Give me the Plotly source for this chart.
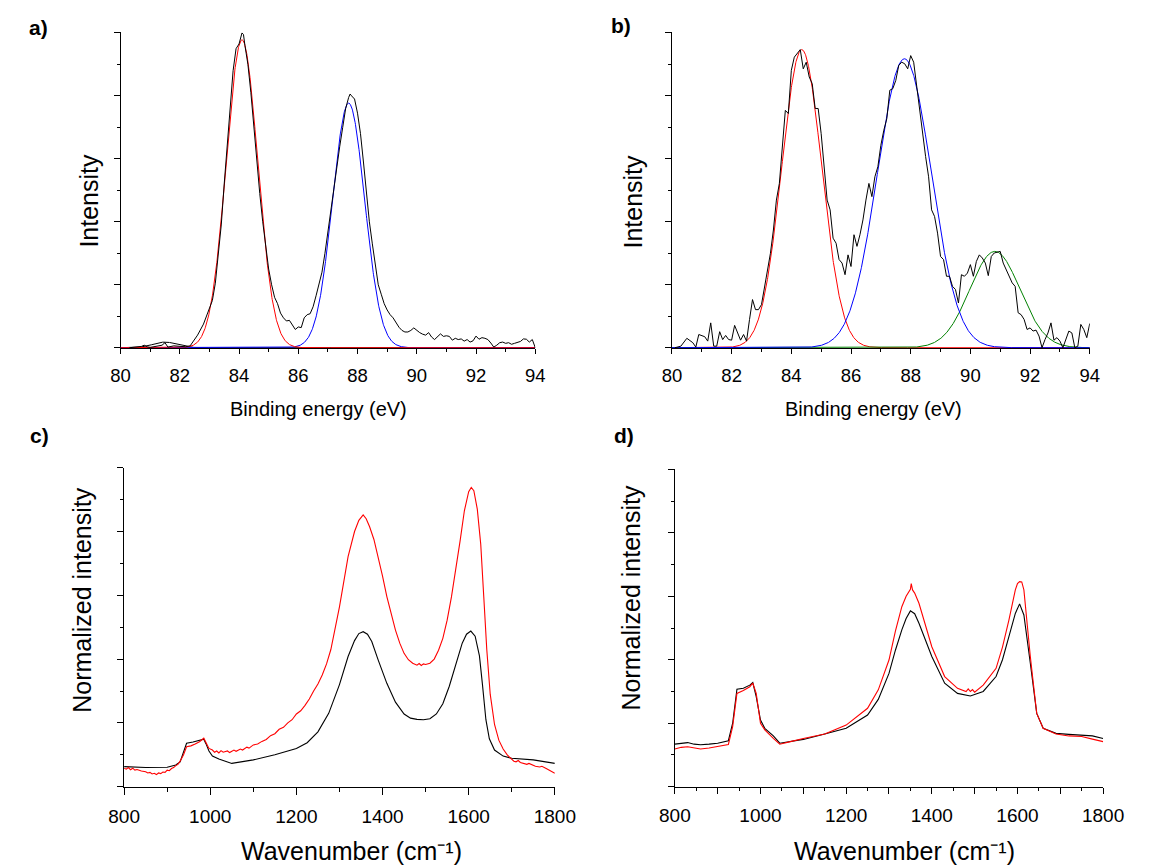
import numpy as np
import plotly.graph_objects as go

W, H = 1152, 865
FONT = "Liberation Sans, Arial, sans-serif"

# ---------------- panel a: XPS spectrum + fitted components ----------------
a_energy = [80.3, 80.5, 80.7, 80.8, 80.9, 81.0, 81.2, 81.4, 81.5, 81.6, 81.8, 82.0, 82.2, 82.35,
            82.5, 82.6, 82.8, 82.9, 83.0, 83.1, 83.2, 83.3, 83.4, 83.5, 83.6, 83.7, 83.8, 83.9,
            84.0, 84.1, 84.15, 84.2, 84.3, 84.4, 84.5, 84.6, 84.7, 84.8, 84.9, 85.0, 85.1, 85.2,
            85.3, 85.4, 85.5, 85.6, 85.7, 85.8, 85.9, 86.0, 86.1, 86.2, 86.3, 86.4, 86.5, 86.6,
            86.7, 86.8, 86.9, 87.0, 87.1, 87.2, 87.3, 87.4, 87.5, 87.6, 87.7, 87.75, 87.8, 87.9,
            88.0, 88.1, 88.2, 88.3, 88.4, 88.5, 88.6, 88.7, 88.8, 88.9, 89.0, 89.1, 89.2, 89.3,
            89.4, 89.5, 89.6, 89.7, 89.8, 89.9, 90.0, 90.1, 90.2, 90.3, 90.4, 90.5, 90.6, 90.7,
            90.8, 90.9, 91.0, 91.1, 91.2, 91.3, 91.4, 91.5, 91.6, 91.7, 91.8, 91.9, 92.0, 92.1,
            92.2, 92.3, 92.4, 92.5, 92.6, 92.7, 92.8, 92.9, 93.0, 93.1, 93.2, 93.3, 93.4, 93.5,
            93.6, 93.7, 93.8, 93.9, 94.0]
a_counts = [0.000, 0.002, 0.004, 0.008, 0.003, 0.001, 0.004, 0.008, 0.016, 0.002, 0.006, 0.004,
            0.003, 0.006, 0.025, 0.040, 0.075, 0.100, 0.120, 0.150, 0.205, 0.290, 0.390, 0.520,
            0.640, 0.760, 0.880, 0.950, 0.965, 1.000, 0.995, 0.960, 0.900, 0.810, 0.700, 0.590,
            0.490, 0.400, 0.320, 0.250, 0.200, 0.160, 0.140, 0.110, 0.095, 0.085, 0.087, 0.072,
            0.058, 0.066, 0.064, 0.095, 0.105, 0.108, 0.130, 0.165, 0.200, 0.240, 0.300, 0.370,
            0.440, 0.510, 0.580, 0.640, 0.700, 0.760, 0.795, 0.806, 0.800, 0.790, 0.745, 0.680,
            0.590, 0.490, 0.400, 0.330, 0.260, 0.200, 0.170, 0.140, 0.120, 0.105, 0.095, 0.080,
            0.065, 0.055, 0.050, 0.050, 0.055, 0.063, 0.055, 0.048, 0.043, 0.040, 0.048, 0.034,
            0.026, 0.035, 0.044, 0.036, 0.038, 0.036, 0.024, 0.030, 0.026, 0.028, 0.021, 0.026,
            0.018, 0.022, 0.037, 0.027, 0.032, 0.030, 0.026, 0.015, 0.002, 0.008, 0.016, 0.018,
            0.014, 0.016, 0.011, 0.014, 0.016, 0.020, 0.028, 0.027, 0.018, 0.026, 0.000]
# fitted Gaussian components: centre (eV), height, sigma (eV)
a_fit_center = [81.5, 87.7, 84.1]
a_fit_height = [0.018, 0.777, 0.978]
a_fit_sigma = [0.40, 0.54, 0.53]
a_fit_color = ["black", "#0000ff", "#ff0000"]

# ---------------- panel b ----------------
b_energy = [80.1, 80.3, 80.5, 80.7, 80.8, 80.9, 81.1, 81.2, 81.3, 81.4, 81.5, 81.6, 81.7, 81.8,
            81.9, 82.0, 82.1, 82.3, 82.4, 82.5, 82.6, 82.7, 82.8, 82.9, 83.0, 83.1, 83.2, 83.3,
            83.4, 83.5, 83.6, 83.7, 83.8, 83.9, 84.0, 84.1, 84.2, 84.3, 84.4, 84.5, 84.6, 84.7,
            84.8, 84.9, 85.0, 85.1, 85.2, 85.3, 85.4, 85.5, 85.6, 85.7, 85.8, 85.9, 86.0, 86.1,
            86.2, 86.3, 86.4, 86.5, 86.6, 86.7, 86.8, 86.9, 87.0, 87.1, 87.2, 87.3, 87.4, 87.5,
            87.6, 87.7, 87.8, 87.9, 88.0, 88.1, 88.2, 88.3, 88.4, 88.5, 88.6, 88.7, 88.8, 88.9,
            89.0, 89.1, 89.2, 89.3, 89.4, 89.5, 89.6, 89.7, 89.8, 89.9, 90.0, 90.1, 90.2, 90.3,
            90.4, 90.5, 90.6, 90.7, 90.8, 90.9, 91.0, 91.1, 91.2, 91.3, 91.4, 91.5, 91.6, 91.7,
            91.8, 91.9, 92.0, 92.1, 92.2, 92.3, 92.4, 92.5, 92.6, 92.7, 92.8, 92.9, 93.0, 93.1,
            93.2, 93.3, 93.4, 93.5, 93.6, 93.7, 93.8, 93.9, 94.0]
b_counts = [0.000, 0.005, 0.030, 0.016, 0.002, 0.042, 0.035, 0.021, 0.079, 0.005, 0.005, 0.051,
            0.026, 0.039, 0.026, 0.024, 0.071, 0.024, 0.042, 0.021, 0.090, 0.153, 0.121, 0.121,
            0.137, 0.195, 0.248, 0.300, 0.374, 0.469, 0.522, 0.628, 0.754, 0.744, 0.881, 0.923,
            0.934, 0.947, 0.886, 0.907, 0.860, 0.839, 0.760, 0.760, 0.680, 0.585, 0.469, 0.438,
            0.348, 0.332, 0.280, 0.269, 0.232, 0.295, 0.258, 0.359, 0.322, 0.359, 0.406, 0.469,
            0.522, 0.480, 0.543, 0.575, 0.643, 0.691, 0.728, 0.818, 0.823, 0.849, 0.897, 0.907,
            0.902, 0.886, 0.928, 0.907, 0.828, 0.765, 0.680, 0.607, 0.543, 0.438, 0.417, 0.364,
            0.290, 0.280, 0.227, 0.227, 0.195, 0.185, 0.142, 0.232, 0.227, 0.237, 0.264, 0.227,
            0.274, 0.295, 0.285, 0.269, 0.229, 0.290, 0.301, 0.303, 0.306, 0.269, 0.248, 0.232,
            0.206, 0.195, 0.111, 0.105, 0.090, 0.058, 0.063, 0.053, 0.056, 0.037, 0.000, 0.026,
            0.047, 0.079, 0.024, 0.032, 0.021, 0.000, 0.026, 0.053, 0.047, 0.000, 0.005, 0.074,
            0.058, 0.032, 0.077]
b_fit_center = [84.35, 90.82, 87.79]
b_fit_height = [0.947, 0.306, 0.918]
b_fit_sigma = [0.67, 0.84, 0.90]
b_fit_color = ["#ff0000", "#008000", "#0000ff"]

# ---------------- panel c: Raman spectra ----------------
c_black_x = [800, 850, 900, 920, 930, 940, 945, 960, 975, 985, 990, 997, 1005, 1020, 1050, 1075,
             1100, 1150, 1200, 1225, 1250, 1275, 1300, 1320, 1335, 1345, 1355, 1365, 1375, 1390,
             1410, 1430, 1450, 1465, 1480, 1495, 1510, 1525, 1540, 1555, 1570, 1585, 1595, 1605,
             1615, 1625, 1632, 1640, 1648, 1660, 1680, 1700, 1750, 1800]
c_black_y = [0.063, 0.060, 0.061, 0.068, 0.078, 0.115, 0.136, 0.140, 0.146, 0.149, 0.135, 0.112,
             0.096, 0.087, 0.073, 0.078, 0.084, 0.100, 0.120, 0.138, 0.172, 0.230, 0.320, 0.408,
             0.458, 0.480, 0.486, 0.478, 0.455, 0.397, 0.324, 0.265, 0.228, 0.215, 0.211, 0.210,
             0.213, 0.228, 0.260, 0.315, 0.385, 0.450, 0.478, 0.488, 0.472, 0.410, 0.320, 0.210,
             0.150, 0.115, 0.096, 0.089, 0.084, 0.073]
c_red_x = [800, 805, 810, 815, 820, 825, 830, 840, 850, 855, 860, 865, 870, 875, 880, 885, 890,
           895, 900, 905, 910, 915, 920, 925, 930, 938, 945, 955, 965, 975, 985, 990, 997, 1005,
           1010, 1015, 1020, 1025, 1030, 1040, 1045, 1055, 1060, 1070, 1075, 1085, 1090, 1100,
           1110, 1120, 1130, 1140, 1150, 1160, 1170, 1180, 1190, 1200, 1210, 1220, 1230, 1240,
           1250, 1260, 1270, 1280, 1300, 1320, 1335, 1345, 1355, 1362, 1370, 1380, 1390, 1400,
           1410, 1420, 1430, 1440, 1450, 1460, 1470, 1480, 1485, 1490, 1495, 1500, 1510, 1520,
           1530, 1540, 1550, 1560, 1570, 1580, 1590, 1600, 1606, 1612, 1620, 1628, 1635, 1642,
           1650, 1660, 1670, 1680, 1690, 1700, 1705, 1710, 1715, 1720, 1725, 1735, 1740, 1750,
           1755, 1765, 1770, 1780, 1785, 1790, 1795, 1800]
c_red_y = [0.058, 0.055, 0.060, 0.053, 0.058, 0.052, 0.054, 0.049, 0.047, 0.043, 0.045, 0.040,
           0.042, 0.038, 0.043, 0.041, 0.046, 0.045, 0.052, 0.050, 0.057, 0.060, 0.066, 0.070,
           0.080, 0.100, 0.125, 0.128, 0.134, 0.141, 0.152, 0.140, 0.120, 0.115, 0.108, 0.112,
           0.106, 0.113, 0.108, 0.112, 0.107, 0.115, 0.111, 0.118, 0.115, 0.124, 0.121, 0.131,
           0.134, 0.142, 0.148, 0.160, 0.166, 0.180, 0.186, 0.200, 0.210, 0.228, 0.238, 0.255,
           0.275, 0.300, 0.322, 0.350, 0.385, 0.430, 0.564, 0.721, 0.800, 0.835, 0.852, 0.840,
           0.815, 0.775, 0.721, 0.660, 0.596, 0.540, 0.491, 0.450, 0.418, 0.398, 0.387, 0.381,
           0.386, 0.380, 0.385, 0.383, 0.387, 0.400, 0.428, 0.465, 0.522, 0.595, 0.679, 0.770,
           0.865, 0.925, 0.938, 0.928, 0.870, 0.760, 0.596, 0.430, 0.290, 0.195, 0.146, 0.118,
           0.099, 0.086, 0.080, 0.078, 0.082, 0.076, 0.074, 0.070, 0.073, 0.068, 0.064, 0.062,
           0.064, 0.057, 0.053, 0.050, 0.046, 0.042]

# ---------------- panel d ----------------
d_black_x = [800, 815, 830, 845, 860, 880, 900, 925, 935, 945, 960, 975, 982, 990, 1000, 1010,
             1030, 1045, 1070, 1100, 1150, 1200, 1250, 1275, 1300, 1315, 1330, 1340, 1350, 1360,
             1370, 1385, 1400, 1430, 1460, 1490, 1520, 1550, 1565, 1580, 1595, 1605, 1615, 1630,
             1645, 1660, 1690, 1720, 1750, 1775, 1800]
d_black_y = [0.134, 0.136, 0.139, 0.134, 0.132, 0.134, 0.137, 0.145, 0.200, 0.307, 0.310, 0.320,
             0.328, 0.284, 0.210, 0.184, 0.160, 0.137, 0.142, 0.149, 0.166, 0.184, 0.226, 0.275,
             0.357, 0.430, 0.494, 0.530, 0.554, 0.545, 0.515, 0.465, 0.410, 0.326, 0.294, 0.286,
             0.300, 0.347, 0.400, 0.473, 0.546, 0.576, 0.541, 0.389, 0.231, 0.184, 0.168, 0.165,
             0.163, 0.160, 0.152]
d_red_x = [800, 815, 830, 845, 860, 880, 900, 925, 935, 945, 960, 975, 982, 990, 1000, 1010,
           1030, 1045, 1070, 1100, 1150, 1200, 1250, 1275, 1300, 1315, 1330, 1340, 1350, 1352,
           1355, 1360, 1370, 1385, 1400, 1430, 1460, 1480, 1485, 1490, 1495, 1500, 1520, 1550,
           1565, 1580, 1595, 1600, 1605, 1610, 1615, 1630, 1645, 1660, 1690, 1720, 1750, 1775,
           1800]
d_red_y = [0.119, 0.124, 0.126, 0.122, 0.119, 0.122, 0.126, 0.133, 0.189, 0.294, 0.303, 0.315,
           0.326, 0.294, 0.200, 0.179, 0.152, 0.134, 0.142, 0.152, 0.166, 0.194, 0.247, 0.305,
           0.399, 0.490, 0.567, 0.600, 0.622, 0.640, 0.620, 0.610, 0.578, 0.510, 0.441, 0.347,
           0.310, 0.300, 0.308, 0.300, 0.306, 0.298, 0.320, 0.373, 0.440, 0.525, 0.620, 0.640,
           0.646, 0.645, 0.620, 0.410, 0.231, 0.184, 0.166, 0.160, 0.158, 0.150, 0.142]

# ---------------- layout geometry (pixels) ----------------
panels = {
    "a": dict(x0=108.0, x1=536.5, y0=32.3, y1=348.3),
    "b": dict(x0=677.7, x1=1109.4, y0=32.3, y1=348.3),
    "c": dict(x0=111.7, x1=556.7, y0=467.7, y1=786.7),
    "d": dict(x0=680.7, x1=1123.2, y0=469.3, y1=786.7),
}


def xdom(p):
    return [p["x0"] / W, p["x1"] / W]


def ydom(p):
    return [1 - p["y1"] / H, 1 - p["y0"] / H]


def gauss(x, c, h, s):
    return h * np.exp(-((x - c) ** 2) / (2 * s ** 2))


fig = go.Figure()


def add_line(x, y, color, ax, width=1.0):
    fig.add_trace(go.Scatter(x=x, y=y, mode="lines", line=dict(color=color, width=width),
                             xaxis="x" + ax, yaxis="y" + ax, showlegend=False,
                             hoverinfo="skip"))


grid_e = np.linspace(80, 94, 1401)
for c, h, s, col in zip(a_fit_center, a_fit_height, a_fit_sigma, a_fit_color):
    add_line(grid_e, gauss(grid_e, c, h, s), col, "")
add_line(a_energy, a_counts, "black", "")

for c, h, s, col in zip(b_fit_center, b_fit_height, b_fit_sigma, b_fit_color):
    add_line(grid_e, gauss(grid_e, c, h, s), col, "2")
add_line(b_energy, b_counts, "black", "2")

add_line(c_black_x, c_black_y, "black", "3", 1.1)
add_line(c_red_x, c_red_y, "#ff0000", "3", 1.1)

add_line(d_black_x, d_black_y, "black", "4", 1.1)
add_line(d_red_x, d_red_y, "#ff0000", "4", 1.1)

# empty trace so the extra tick axis of panel d gets a subplot
fig.add_trace(go.Scatter(x=[], y=[], xaxis="x5", yaxis="y4", showlegend=False,
                         hoverinfo="skip"))

axis_common = dict(showline=True, linecolor="black", linewidth=1, ticks="outside",
                   tickcolor="black", tickwidth=1, showgrid=False, zeroline=False,
                   layer="below traces")


def x_axis(key, anchor, rng, size, standoff, **kw):
    d = dict(axis_common)
    d.update(domain=xdom(panels[key]), anchor=anchor, range=rng,
             tickfont=dict(family=FONT, size=size, color="black"),
             ticklabelstandoff=standoff)
    d.update(kw)
    return d


def y_axis(key, anchor, rng):
    d = dict(axis_common)
    d.update(domain=ydom(panels[key]), anchor=anchor, range=rng, dtick=0.2, tick0=0,
             ticklen=6, showticklabels=False,
             minor=dict(ticks="outside", dtick=0.1, tick0=0, ticklen=3, tickcolor="black"))
    return d


xe_minor = dict(ticks="outside", dtick=1, tick0=80, ticklen=3, tickcolor="black")
xps_y = [-0.0018, 1.002]

fig.update_layout(
    width=W, height=H, margin=dict(l=0, r=0, t=0, b=0),
    paper_bgcolor="white", plot_bgcolor="white",
    xaxis=x_axis("a", "y", [80, 94], 18.5, 5, dtick=2, tick0=80, ticklen=5, minor=xe_minor),
    yaxis=y_axis("a", "x", xps_y),
    xaxis2=x_axis("b", "y2", [80, 94], 18.5, 5, dtick=2, tick0=80, ticklen=5, minor=xe_minor),
    yaxis2=y_axis("b", "x2", xps_y),
    xaxis3=x_axis("c", "y3", [800, 1800], 19, 5, dtick=200, tick0=800, ticklen=7,
                  minor=dict(ticks="outside", dtick=100, tick0=800, ticklen=4,
                             tickcolor="black")),
    yaxis3=y_axis("c", "x3", [0, 1]),
    xaxis4=x_axis("d", "y4", [800, 1800], 19, 5, dtick=200, tick0=800, ticklen=6,
                  minor=dict(ticks="outside", dtick=50, tick0=800, ticklen=3,
                             tickcolor="black")),
    yaxis4=y_axis("d", "x4", [0, 1]),
    # longer unlabeled ticks at the odd hundreds of panel d
    xaxis5=dict(overlaying="x4", anchor="y4", domain=xdom(panels["d"]), range=[800, 1800],
                tickmode="array", tickvals=[900, 1100, 1300, 1500, 1700], ticks="outside",
                ticklen=6, tickcolor="black", tickwidth=1, showticklabels=False,
                showline=False, showgrid=False, zeroline=False),
)


def label(text, x, y, size, angle=0, weight="normal", anchor="center"):
    fig.add_annotation(text=text, x=x / W, y=1 - y / H, xref="paper", yref="paper",
                       xanchor=anchor, yanchor="middle", showarrow=False, textangle=angle,
                       font=dict(family=FONT, size=size, color="black", weight=weight))


label("a)", 11, 27, 21, weight="bold", anchor="left")
label("b)", 613, 25, 21, weight="bold", anchor="left")
label("c)", 12, 435, 21, weight="bold", anchor="left")
label("d)", 616, 435, 21, weight="bold", anchor="left")

label("Intensity", 75, 201, 25, angle=-90)
label("Intensity", 637, 202, 25, angle=-90)
label("Binding energy (eV)", 313, 409, 20)
label("Binding energy (eV)", 886, 409, 20)

label("Normalized intensity", 68, 600, 25, angle=-90)
label("Normalized intensity", 635, 598, 25, angle=-90)
label("Wavenumber (cm⁻¹)", 347, 851, 25)
label("Wavenumber (cm⁻¹)", 918, 851, 25)

fig.write_html("out.html")
